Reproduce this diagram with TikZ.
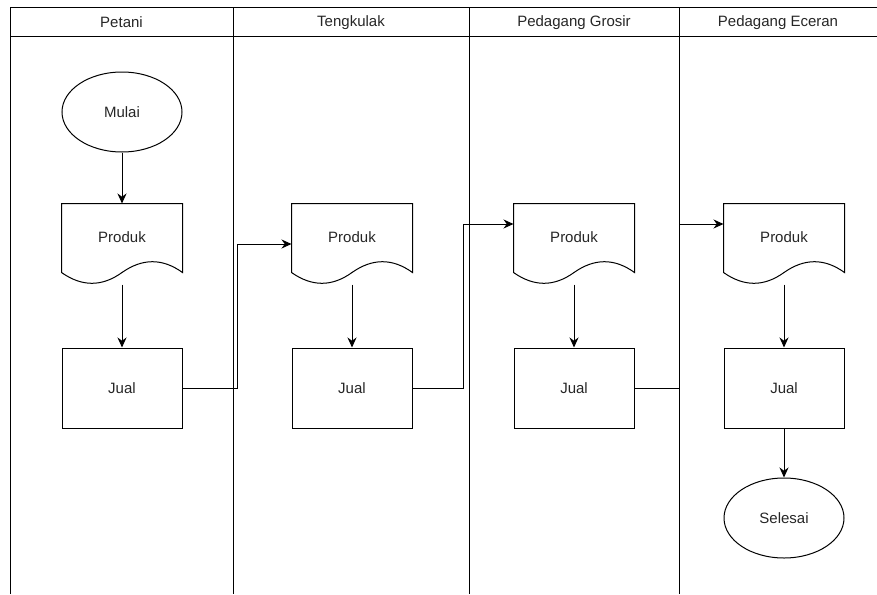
\documentclass[tikz,border=0pt]{standalone}
\usepackage{fontspec}
\setmainfont{Liberation Sans}
\usepackage{tikz}
\usetikzlibrary{arrows.meta,calc,shapes.geometric}
\definecolor{teks}{HTML}{262626}
\tikzset{kotak/.style={draw, line width=1pt, minimum width=120pt, minimum height=80pt, inner sep=0pt, text=teks, font=\fontsize{15}{18}\selectfont}}
\tikzset{oval/.style={kotak, ellipse}}
\tikzset{dokumen/.style={kotak, draw=none}}
\tikzset{judul/.style={text=teks, font=\fontsize{15}{18}\selectfont}}
\tikzset{panah/.style={line width=1pt, -{Stealth[length=10pt,width=9pt]}}}
\tikzset{garis/.style={line width=1pt}}
\newcommand{\gelombang}[1]{%
  \draw [line width=1pt] (#1.north west) -- (#1.north east) -- ([yshift=12pt]#1.south east)
    .. controls ([xshift=-20pt,yshift=26.4pt]#1.south east) and ([xshift=-40pt,yshift=26.4pt]#1.south east) .. ([yshift=12pt]#1.south)
    .. controls ([xshift=-20pt,yshift=-2.4pt]#1.south) and ([xshift=-40pt,yshift=-2.4pt]#1.south) .. ([yshift=12pt]#1.south west) -- cycle;}

\begin{document}
\begin{tikzpicture}[x=1pt, y=-1pt]
    \useasboundingbox (0,0) rectangle (877,594);
    % jalur
    \draw [garis] (10,594) -- (10,8) -- (877,8);
    \draw [garis] (10,37) -- (877,37);
    \foreach \x in {233,469,679}
        \draw [garis] (\x,8) -- (\x,594);
    \node [judul] (petani) at (121.5,22.5) {Petani};
    \node [judul] (tengkulak) at (351,22.5) {Tengkulak};
    \node [judul] (grosir) at (574,22.5) {Pedagang Grosir};
    \node [judul] (eceran) at (778,22.5) {Pedagang Eceran};
    % simpul
    \node [oval] (mulai) at (122,112) {Mulai};
    \node [dokumen] (produk1) at (122,244) {\raisebox{13pt}{Produk}};
    \gelombang{produk1}
    \node [kotak] (jual1) at (122,388) {Jual};
    \node [dokumen] (produk2) at (352,244) {\raisebox{13pt}{Produk}};
    \gelombang{produk2}
    \node [kotak] (jual2) at (352,388) {Jual};
    \node [dokumen] (produk3) at (574,244) {\raisebox{13pt}{Produk}};
    \gelombang{produk3}
    \node [kotak] (jual3) at (574,388) {Jual};
    \node [dokumen] (produk4) at (784,244) {\raisebox{13pt}{Produk}};
    \gelombang{produk4}
    \node [kotak] (jual4) at (784,388) {Jual};
    \node [oval] (selesai) at (784,518) {Selesai};
    % panah
    \draw [panah] (mulai) -- (produk1);
    \draw [panah] (produk1) -- (jual1);
    \draw [panah] (jual1.east) -- ++(55,0) |- (produk2.west);
    \draw [panah] (produk2) -- (jual2);
    \draw [panah] (jual2.east) -- ++(51,0) |- ([yshift=20pt]produk3.west);
    \draw [panah] (produk3) -- (jual3);
    \draw [panah] (jual3.east) -- ++(45,0) |- ([yshift=20pt]produk4.west);
    \draw [panah] (produk4) -- (jual4);
    \draw [panah] (jual4) -- (selesai);
\end{tikzpicture}
\end{document}
